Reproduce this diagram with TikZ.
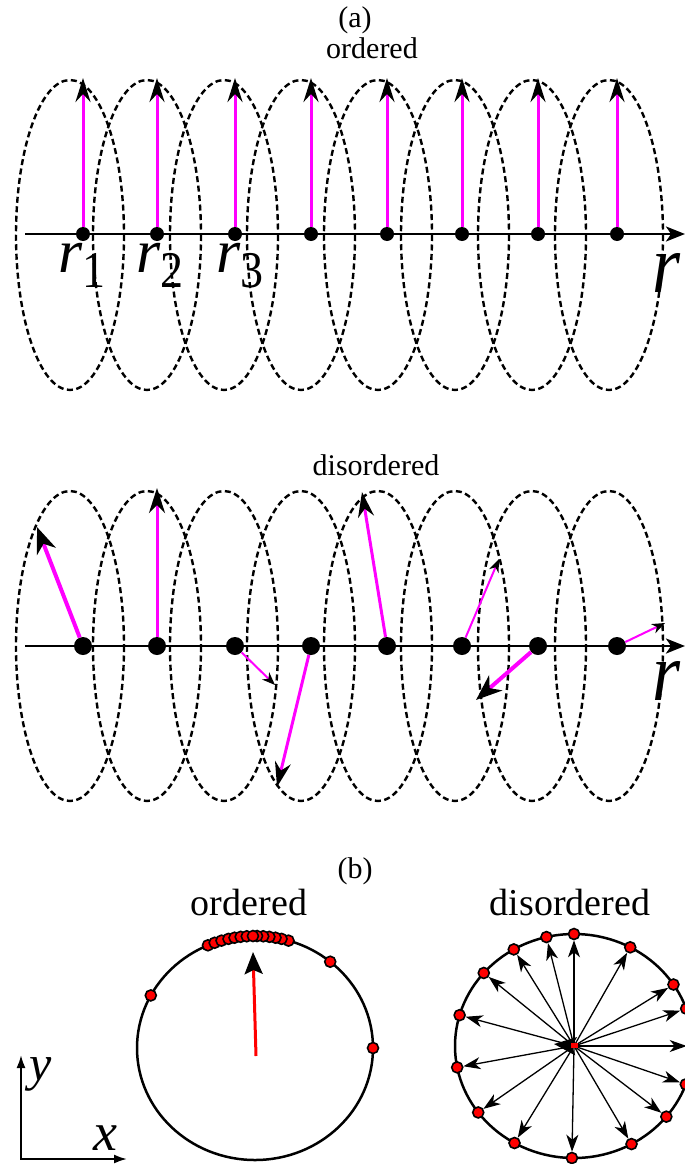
\documentclass[tikz,border=0pt]{standalone}
\usepackage{fontspec}
\setmainfont{Liberation Serif}
\usetikzlibrary{arrows.meta}
\definecolor{mag}{RGB}{255,0,255}
\definecolor{dotred}{RGB}{255,0,0}
\begin{document}
\begin{tikzpicture}[x=1pt,y=-1pt,
  ell/.style={draw=black, line width=2.4pt, dash pattern=on 6pt off 3.5pt},
  axisline/.style={line width=2.8pt, -{Stealth[length=19pt,width=15pt,inset=5pt]}},
  bigdot/.style={circle, fill=black, inner sep=0pt, minimum size=#1},
  spinord/.style={draw=mag, line width=3pt, -{Stealth[color=black,length=24pt,width=15pt,inset=8pt]}},
  spinthick/.style={draw=mag, line width=4pt, -{Stealth[color=black,length=26pt,width=20pt,inset=8pt]}},
  spinmid/.style={draw=mag, line width=3pt, -{Stealth[color=black,length=25pt,width=16pt,inset=8pt]}},
  spinthin/.style={draw=mag, line width=2pt, -{Stealth[color=black,length=13pt,width=10pt,inset=4pt]}},
  txt/.style={inner sep=0pt, anchor=base, font=\fontsize{#1}{#1}\selectfont},
  circ/.style={draw=black, line width=2.5pt},
  rdot/.style={circle, fill=dotred, draw=black, line width=1.6pt, minimum size=11pt, inner sep=0pt},
  radial/.style={draw=black, line width=1.3pt, -{Stealth[length=17pt,width=12pt,inset=5pt]}},
  meanarrow/.style={draw=red, line width=3pt, -{Stealth[color=black,length=22pt,width=18pt,inset=4pt]}},
  xyaxis/.style={line width=2pt}
]
\useasboundingbox (0,0) rectangle (685,1164);
\clip (0,0) rectangle (685,1164);

% ---------------- (a) ordered ----------------
\node[txt=30] (la) at (355,28) {(a)};
\node[txt=30] (lord) at (372,59) {ordered};
\foreach \i in {0,...,7} {
  \draw[ell] ({70+77*\i},235) ellipse [x radius=54, y radius=155];
}
\coordinate (axAs) at (25,234);
\coordinate (axAe) at (685,234);
\draw[axisline] (axAs) -- (axAe);
\foreach \x [count=\i] in {83,157,235,311,387,462,538,617} {
  \node[bigdot=14pt] (da\i) at (\x,234) {};
  \coordinate (ta\i) at (\x,78);
  \draw[spinord] (da\i) -- (ta\i);
}
\node[inner sep=0pt, anchor=base west] (r1) at (58,272)
  {\fontsize{62}{62}\selectfont\itshape r\raisebox{-15pt}{\scalebox{1}[1.12]{\fontsize{46}{46}\selectfont\upshape 1}}};
\node[inner sep=0pt, anchor=base west] (r2) at (136,272)
  {\fontsize{62}{62}\selectfont\itshape r\raisebox{-15pt}{\scalebox{1}[1.12]{\fontsize{46}{46}\selectfont\upshape 2}}};
\node[inner sep=0pt, anchor=base west] (r3) at (216,272)
  {\fontsize{62}{62}\selectfont\itshape r\raisebox{-15pt}{\scalebox{1}[1.12]{\fontsize{46}{46}\selectfont\upshape 3}}};
\node[inner sep=0pt, anchor=base west] (rA) at (652,292)
  {\scalebox{1}[1.15]{\fontsize{72}{72}\selectfont\itshape r}};

% ---------------- (a) disordered ----------------
\node[txt=30] (ldis) at (376,475) {disordered};
\foreach \i in {0,...,7} {
  \draw[ell] ({70+77*\i},646) ellipse [x radius=54, y radius=155];
}
\coordinate (axBs) at (25,646);
\coordinate (axBe) at (685,646);
\draw[axisline] (axBs) -- (axBe);
\foreach \x [count=\i] in {83,157,235,311,387,462,538,617} {
  \node[bigdot=18pt] (db\i) at (\x,646) {};
}
\coordinate (tb1) at (37,527);
\coordinate (tb2) at (157,488);
\coordinate (tb3) at (275,685);
\coordinate (tb4) at (277,787);
\coordinate (tb5) at (362,492);
\coordinate (tb6) at (499,559);
\coordinate (tb7) at (476,700);
\coordinate (tb8) at (665,623);
\draw[spinthick] (db1) -- (tb1);
\draw[spinmid] (db2) -- (tb2);
\draw[spinthin] (db3) -- (tb3);
\draw[spinmid] (db4) -- (tb4);
\draw[spinmid] (db5) -- (tb5);
\draw[spinthin] (db6) -- (tb6);
\draw[spinthick] (db7) -- (tb7);
\draw[spinthin] (db8) -- (tb8);
\node[inner sep=0pt, anchor=base west] (rB) at (652,700)
  {\scalebox{1}[1.15]{\fontsize{72}{72}\selectfont\itshape r}};

% ---------------- (b) ----------------
\node[txt=30] (lb) at (355,878) {(b)};
\node[txt=38] (lbo) at (249,915) {ordered};
\node[txt=38] (lbd) at (570,915) {disordered};

% ordered circle
\coordinate (oc) at (255,1048);
\draw[circ] (oc) ellipse [x radius=118, y radius=112];
\coordinate (ostart) at (256,1056);
\coordinate (otip) at (253,952);
\draw[meanarrow] (ostart) -- (otip);
\foreach \a [count=\i] in {152,50.4,0,113.5,110,106.5,103,100,97,94,73.5,77,80,83,86,89,91} {
  \node[rdot] (od\i) at ({255+118*cos(\a)},{1048-112*sin(\a)}) {};
}

% disordered circle
\coordinate (dc) at (574,1046);
\draw[circ] (dc) ellipse [x radius=119, y radius=112];
\foreach \a [count=\i] in {90,103.4,120.4,139.3,164,191,216.4,240,269,298.9,320.9,340,0,19.5,33.3,61.8} {
  \node[rdot] (dd\i) at ({574+119*cos(\a)},{1046-112*sin(\a)}) {};
  \draw[radial] (dc) -- (dd\i);
}
\coordinate (dmtip) at (554,1044);
\draw[meanarrow] (dc) -- (dmtip);
\fill[red] (571,1043) rectangle (578,1048);

% xy axes
\coordinate (xo) at (21,1159);
\coordinate (xyt) at (21,1055);
\coordinate (xxt) at (127,1159);
\draw[xyaxis, {Latex[length=13pt,width=9pt]}-{Latex[length=13pt,width=9pt]}] (xyt) -- (xo) -- (xxt);
\node[inner sep=0pt, anchor=base west] (ly) at (29,1080) {\fontsize{50}{50}\selectfont\itshape y};
\node[inner sep=0pt, anchor=base west] (lx) at (93,1150) {\fontsize{54}{54}\selectfont\itshape x};
\end{tikzpicture}
\end{document}
